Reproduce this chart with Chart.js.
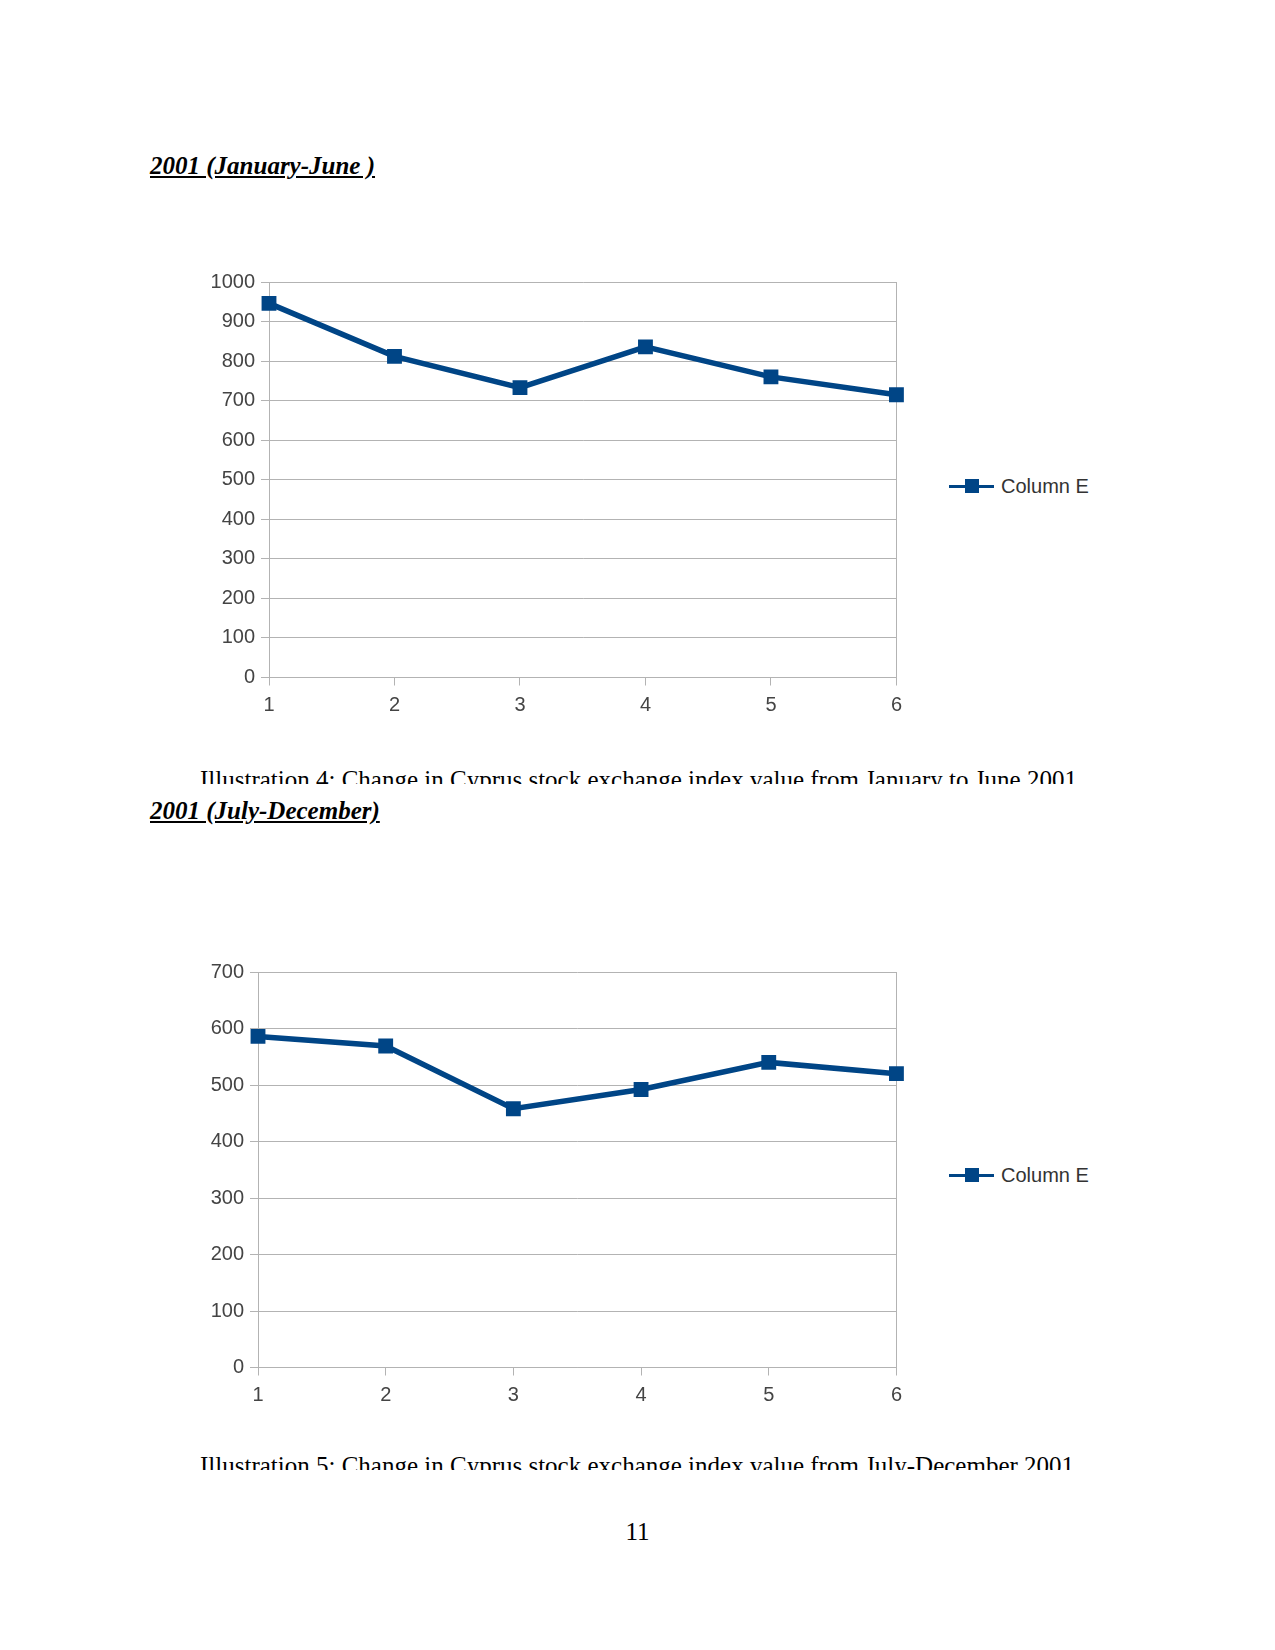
<!DOCTYPE html>
<html>
<head>
<meta charset="utf-8">
<script src="https://cdn.jsdelivr.net/npm/chart.js@4.4.1/dist/chart.umd.min.js"></script>
<style>
  body { margin: 0; background: #fff; }
  .page { position: relative; width: 1275px; height: 1650px; overflow: hidden; }
  .heading {
    position: absolute; left: 150px;
    font-family: "Liberation Serif", serif; font-size: 25px; line-height: 30px;
    font-weight: bold; font-style: italic; text-decoration: underline; color: #000;
  }
  .caption {
    position: absolute; left: 200px; overflow: hidden; white-space: nowrap;
    font-family: "Liberation Serif", serif; font-size: 25px; line-height: 30px; color: #000;
  }
  .box { position: absolute; left: 190px; width: 720px; height: 460px; }
  .legend {
    position: absolute; left: 949px; height: 24px;
    font-family: "Liberation Sans", Arial, sans-serif; font-size: 20px; color: #333;
    display: flex; align-items: center;
  }
  .legend .sym { position: relative; width: 45px; height: 24px; margin-right: 7px; }
  .legend .sym::before { content: ""; position: absolute; left: 0; right: 0; top: 10.5px; height: 3px; background: #004586; }
  .legend .sym::after { content: ""; position: absolute; left: 16px; top: 5px; width: 14px; height: 14px; background: #004586; }
  .pagenum {
    position: absolute; left: 0; width: 1275px; top: 1517px; text-align: center;
    font-family: "Liberation Serif", serif; font-size: 25px; line-height: 30px; color: #000;
  }
</style>
</head>
<body>
<div class="page">
  <div class="heading" style="top:151px">2001 (January-June )</div>
  <div class="box" style="top:260px"><canvas id="chart1"></canvas></div>
  <div class="legend" style="top:474px"><span class="sym"></span>Column E</div>
  <div class="caption" style="top:765px;height:19px">Illustration 4: Change in Cyprus stock exchange index value from January to June 2001</div>

  <div class="heading" style="top:796px">2001 (July-December)</div>
  <div class="box" style="top:950px"><canvas id="chart2"></canvas></div>
  <div class="legend" style="top:1163px"><span class="sym"></span>Column E</div>
  <div class="caption" style="top:1451px;height:19px">Illustration 5: Change in Cyprus stock exchange index value from July-December 2001</div>

  <div class="pagenum">11</div>
</div>
<script>
// data
const months = ['1', '2', '3', '4', '5', '6'];
const janJune = [946, 812, 733, 836, 760, 715];
const julDec = [586, 569, 458, 492, 540, 520];
const seriesName = 'Column E';

const lineBlue = '#004586';
const gridGrey = '#b3b3b3';
const tickText = '#444';

function makeChart(id, values, yMax, yAxisWidth) {
    const ctx = document.getElementById(id).getContext('2d');
    return new Chart(ctx, {
        type: 'line',
        data: {
            labels: months,
            datasets: [{
                label: seriesName,
                data: values,
                borderColor: lineBlue,
                backgroundColor: lineBlue,
                borderWidth: 5.5,
                pointStyle: 'rect',
                pointRadius: 10.5,
                pointBackgroundColor: lineBlue,
                pointBorderWidth: 0,
                tension: 0
            }]
        },
        options: {
            responsive: true,
            maintainAspectRatio: false,
            animation: false,
            layout: { padding: { top: 22, right: 11, left: 0, bottom: 0 } },
            plugins: { legend: { display: false }, tooltip: { enabled: false } },
            scales: {
                x: {
                    offset: false,
                    grid: {
                        // only the right frame line is drawn inside the plot
                        color: (c) => c.index === months.length - 1 ? gridGrey : 'rgba(0,0,0,0)',
                        tickColor: gridGrey,
                        tickLength: 8,
                        lineWidth: 1
                    },
                    border: { color: gridGrey },
                    ticks: {
                        color: tickText,
                        padding: 8,
                        maxRotation: 0,
                        font: { family: 'Liberation Sans', size: 20 }
                    },
                    afterFit: (s) => { s.height = 42.5; }
                },
                y: {
                    min: 0,
                    max: yMax,
                    grid: { color: gridGrey, tickColor: gridGrey, tickLength: 8 },
                    border: { color: gridGrey },
                    ticks: {
                        stepSize: 100,
                        color: tickText,
                        padding: 6,
                        font: { family: 'Liberation Sans', size: 20 },
                        callback: (v) => String(v)
                    },
                    afterFit: (s) => { s.width = yAxisWidth; }
                }
            }
        }
    });
}

makeChart('chart1', janJune, 1000, 79);
makeChart('chart2', julDec, 700, 68);
</script>
</body>
</html>
